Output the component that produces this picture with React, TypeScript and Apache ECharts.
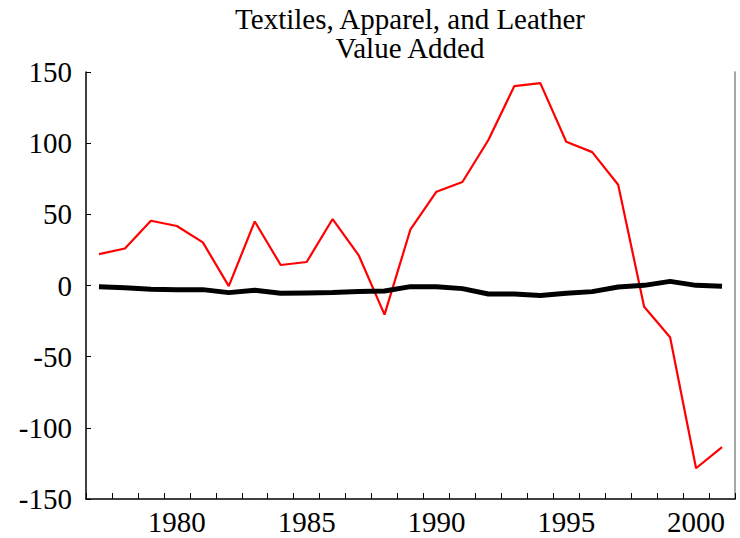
import React, { useEffect, useRef } from "react";
import * as echarts from "echarts";

const years = [
  "1977", "1978", "1979", "1980", "1981", "1982", "1983", "1984", "1985",
  "1986", "1987", "1988", "1989", "1990", "1991", "1992", "1993", "1994",
  "1995", "1996", "1997", "1998", "1999", "2000", "2001",
];
const redSeries = [
  22, 26, 45.5, 41.8, 30.3, -0.4, 45, 14.4, 16.5, 46.7, 21.4, -20.5, 39.5,
  65.9, 72.7, 102.2, 140.1, 142.2, 101, 93.7, 70.8, -14.9, -36.4, -128.4, -113.6,
];
const blackSeries = [
  -0.8, -1.5, -2.7, -2.9, -2.9, -5, -3.4, -5.5, -5.2, -5, -4.3, -3.9, -0.8,
  -0.8, -2.2, -6, -6, -7.1, -5.5, -4.3, -1, 0.1, 2.9, 0.1, -0.6,
];
const titleLines = ["Textiles, Apparel, and Leather", "Value Added"];

const FONT = "Liberation Serif";

export default function App() {
  const ref = useRef<HTMLDivElement>(null);
  useEffect(() => {
    if (!ref.current) return;
    const chart = echarts.init(ref.current, null, { renderer: "svg" });
    const titleStyle = {
      fontFamily: FONT,
      fontSize: 29,
      fontWeight: "normal",
      color: "#000",
    };
    const labelStyle = {
      fontFamily: FONT,
      fontSize: 29,
      fontWeight: "normal",
      color: "#000",
    };
    chart.setOption({
      animation: false,
      backgroundColor: "#ffffff",
      textStyle: { fontFamily: FONT },
      title: titleLines.map((t, i) => ({
        text: t,
        left: 410,
        textAlign: "center",
        top: 4 + i * 29,
        padding: 0,
        textStyle: titleStyle,
      })),
      grid: { left: 86, right: 5, top: 72, bottom: 39, containLabel: false },
      xAxis: {
        type: "category",
        data: years,
        boundaryGap: true,
        axisLine: { show: true, onZero: false, lineStyle: { color: "#000", width: 1.5 } },
        axisTick: {
          show: true,
          inside: true,
          interval: 0,
          length: 6,
          lineStyle: { color: "#000" },
        },
        axisLabel: {
          interval: (idx: number, val: string) => Number(val) % 5 === 0,
          ...labelStyle,
          margin: 8,
        },
        splitLine: { show: false },
      },
      yAxis: [
        {
          type: "value",
          min: -150,
          max: 150,
          interval: 50,
          axisLine: { show: true, lineStyle: { color: "#000", width: 1.5 } },
          axisTick: { show: true, inside: true, length: 5, lineStyle: { color: "#000" } },
          axisLabel: {
            ...labelStyle,
            margin: 14,
          },
          splitLine: { show: false },
        },
        {
          type: "value",
          position: "right",
          min: -150,
          max: 150,
          interval: 50,
          axisLine: { show: true, lineStyle: { color: "#888", width: 1.5 } },
          axisTick: { show: false },
          axisLabel: { show: false },
          splitLine: { show: false },
        },
      ],
      series: [
        {
          type: "line",
          data: redSeries,
          showSymbol: false,
          symbol: "none",
          lineStyle: { color: "#ff0000", width: 2.2 },
          z: 2,
        },
        {
          type: "line",
          data: blackSeries,
          showSymbol: false,
          symbol: "none",
          lineStyle: { color: "#000000", width: 5 },
          z: 3,
        },
      ],
    });
    return () => chart.dispose();
  }, []);
  return <div ref={ref} style={{ width: 740, height: 538, position: "absolute", left: 0, top: 0 }} />;
}
